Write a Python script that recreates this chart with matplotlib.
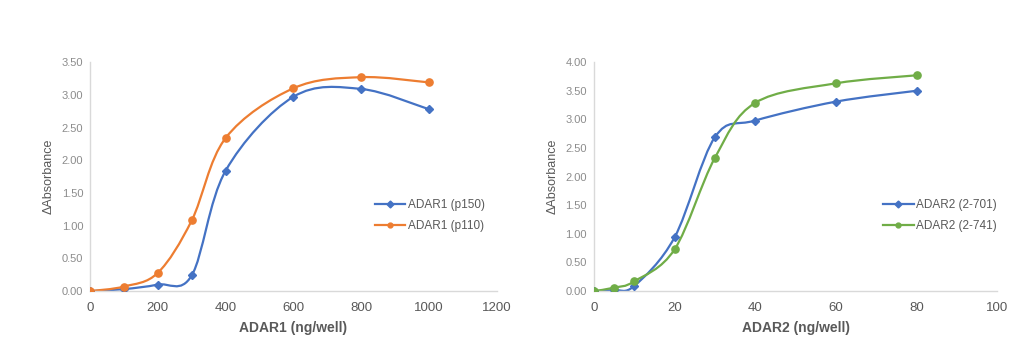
import matplotlib.pyplot as plt
from matplotlib.path import Path
from matplotlib.patches import PathPatch

plt.rcParams['font.family'] = ['Liberation Sans', 'DejaVu Sans']

adar1_x = [0, 100, 200, 300, 400, 600, 800, 1000]
adar1_p150 = [0.00, 0.03, 0.10, 0.24, 1.84, 2.97, 3.09, 2.78]
adar1_p110 = [0.00, 0.07, 0.28, 1.08, 2.34, 3.10, 3.27, 3.19]

adar2_x = [0, 5, 10, 20, 30, 40, 60, 80]
adar2_701 = [0.00, 0.02, 0.09, 0.94, 2.69, 2.98, 3.31, 3.50]
adar2_741 = [0.00, 0.06, 0.17, 0.73, 2.33, 3.29, 3.63, 3.77]

BLUE = '#4472C4'
ORANGE = '#ED7D31'
GREEN = '#70AD47'
TICK = '#8c8c8c'
LABEL = '#595959'


def smooth_line(ax, x, y, color):
    # excel style smoothed line: cubic bezier through the points
    n = len(x)
    verts = [(x[0], y[0])]
    codes = [Path.MOVETO]
    for i in range(n - 1):
        x0, y0 = (x[i - 1], y[i - 1]) if i > 0 else (x[i], y[i])
        x3, y3 = (x[i + 2], y[i + 2]) if i + 2 < n else (x[i + 1], y[i + 1])
        c1 = (x[i] + (x[i + 1] - x0) / 6, y[i] + (y[i + 1] - y0) / 6)
        c2 = (x[i + 1] - (x3 - x[i]) / 6, y[i + 1] - (y3 - y[i]) / 6)
        verts += [c1, c2, (x[i + 1], y[i + 1])]
        codes += [Path.CURVE4] * 3
    ax.add_patch(PathPatch(Path(verts, codes), fill=False, edgecolor=color, lw=1.6, zorder=2))


def series(ax, x, y, color, marker, ms, label):
    smooth_line(ax, x, y, color)
    ax.plot(x, y, ls='none', marker=marker, ms=ms, color=color, zorder=3)
    # legend proxy
    ax.plot([], [], color=color, marker=marker, ms=3.5, lw=1.6, label=label)


def style(ax, xlim, xstep, ylim, ystep, xlabel):
    ax.set_xlim(xlim)
    ax.set_ylim(ylim)
    ax.set_xticks(range(xlim[0], xlim[1] + 1, xstep))
    yt = [i * ystep for i in range(int(round(ylim[1] / ystep)) + 1)]
    ax.set_yticks(yt)
    ax.set_yticklabels(['%.2f' % v for v in yt])
    for s in ['top', 'right']:
        ax.spines[s].set_visible(False)
    for s in ['left', 'bottom']:
        ax.spines[s].set_color('#d9d9d9')
        ax.spines[s].set_linewidth(1.0)
    ax.tick_params(axis='y', length=0, labelsize=8, labelcolor=TICK, pad=5)
    ax.tick_params(axis='x', length=0, labelsize=9.5, labelcolor='#595959', pad=8)
    ax.set_xlabel(xlabel, fontsize=10, fontweight='bold', color=LABEL, labelpad=5)
    ax.set_ylabel('ΔAbsorbance', fontsize=9, color=LABEL, labelpad=5)


fig = plt.figure(figsize=(10.24, 3.55), dpi=100)
ax1 = fig.add_axes([0.088, 0.180, 0.397, 0.645])
ax2 = fig.add_axes([0.580, 0.180, 0.394, 0.645])

series(ax1, adar1_x, adar1_p150, BLUE, 'D', 3.8, 'ADAR1 (p150)')
series(ax1, adar1_x, adar1_p110, ORANGE, 'o', 5.2, 'ADAR1 (p110)')
style(ax1, (0, 1200), 200, (0, 3.5), 0.5, 'ADAR1 (ng/well)')

series(ax2, adar2_x, adar2_701, BLUE, 'D', 3.8, 'ADAR2 (2-701)')
series(ax2, adar2_x, adar2_741, GREEN, 'o', 5.2, 'ADAR2 (2-741)')
style(ax2, (0, 100), 20, (0, 4.0), 0.5, 'ADAR2 (ng/well)')

for ax, anchor in [(ax1, (0.688, 0.33)), (ax2, (0.705, 0.33))]:
    leg = ax.legend(loc='center left', bbox_to_anchor=anchor, frameon=False,
                    fontsize=8.5, handlelength=2.6, handletextpad=0.2,
                    labelspacing=0.75, borderaxespad=0)
    for t in leg.get_texts():
        t.set_color(LABEL)

fig.savefig('out.png', dpi=100)
